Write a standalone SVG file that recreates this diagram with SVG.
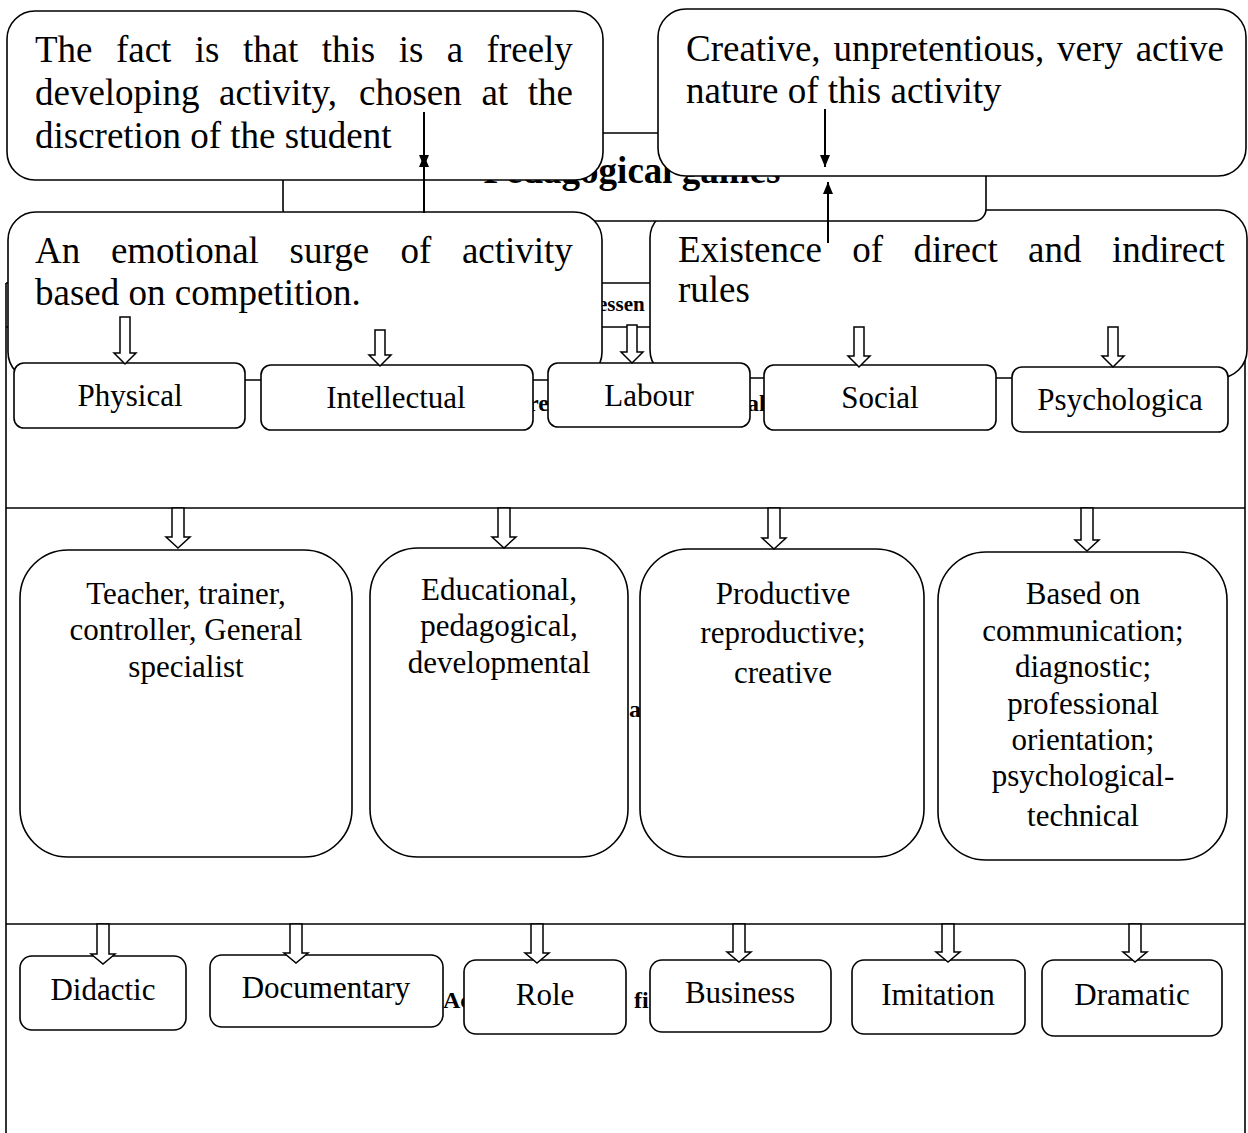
<svg xmlns="http://www.w3.org/2000/svg" width="1248" height="1133" viewBox="0 0 1248 1133">
<style>
.ln{stroke:#000;stroke-width:1.6;fill:none}
.bx{fill:#fff;stroke:#000;stroke-width:1.6}
.t{font-family:"Liberation Serif","Times New Roman",serif;fill:#000}
.big{font-size:37px}
.sm{font-size:31px}
.bd{font-weight:bold;font-size:24px}
.ha{fill:#fff;stroke:#000;stroke-width:1.5;stroke-linejoin:miter}
.ar{stroke:#000;stroke-width:2;fill:none}
</style>
<defs>
<marker id="ah" markerWidth="13" markerHeight="12" refX="12" refY="6" orient="auto" markerUnits="userSpaceOnUse"><path d="M0,1 L12,6 L0,11 Z" fill="#000"/></marker>
</defs>
<rect width="1248" height="1133" fill="#fff"/>
<g id="table">
<line class="ln" x1="6" y1="283" x2="1245" y2="283"/>
<line class="ln" x1="6" y1="327" x2="1245" y2="327"/>
<line class="ln" x1="6" y1="508" x2="1245" y2="508"/>
<line class="ln" x1="6" y1="924" x2="1245" y2="924"/>
<line class="ln" x1="6" y1="283" x2="6" y2="1133"/>
<line class="ln" x1="1245" y1="283" x2="1245" y2="1133"/>
<text class="t bd" x="598" y="311" style="font-size:21px">essen</text>
<text class="t bd" x="528" y="411">re</text>
<text class="t bd" x="747" y="411">al</text>
<text class="t bd" x="629" y="717">a</text>
<text class="t bd" x="443" y="1008">Ac</text>
<text class="t bd" x="634" y="1008">fi</text>
</g>
<g id="node-rules">
<rect class="bx" x="650" y="210" width="597" height="168" rx="28"/>
<text class="t big" y="262"><tspan x="678">Existence</tspan><tspan x="852.3">of</tspan><tspan x="913.5">direct</tspan><tspan x="1028.1">and</tspan><tspan x="1111.9">indirect</tspan></text>
<text class="t big" x="678" y="302">rules</text>
</g>
<g id="node-pedagogical-games">
<rect class="bx" x="283" y="133" width="703" height="88" rx="12"/>
<text class="t" x="632" y="183" text-anchor="middle" style="font-size:37px;font-weight:bold">Pedagogical games</text>
</g>
<g id="node-fact">
<rect class="bx" x="7" y="11" width="596" height="169" rx="28"/>
<text class="t big" y="62"><tspan x="35">The</tspan><tspan x="115.9">fact</tspan><tspan x="194.8">is</tspan><tspan x="242.9">that</tspan><tspan x="321.8">this</tspan><tspan x="398.7">is</tspan><tspan x="446.8">a</tspan><tspan x="486.6">freely</tspan></text>
<text class="t big" y="105"><tspan x="35">developing</tspan><tspan x="219.1">activity,</tspan><tspan x="359">chosen</tspan><tspan x="481.4">at</tspan><tspan x="527.8">the</tspan></text>
<text class="t big" x="35" y="148">discretion of the student</text>
</g>
<g id="node-creative">
<rect class="bx" x="658" y="9" width="588" height="167" rx="28"/>
<text class="t big" y="61"><tspan x="686">Creative,</tspan><tspan x="833.5">unpretentious,</tspan><tspan x="1057.1">very</tspan><tspan x="1135.7">active</tspan></text>
<text class="t big" x="686" y="103">nature of this activity</text>
</g>
<g id="node-emotional">
<rect class="bx" x="8" y="212" width="594" height="168" rx="28"/>
<text class="t big" y="263"><tspan x="35">An</tspan><tspan x="110.9">emotional</tspan><tspan x="289.6">surge</tspan><tspan x="400.4">of</tspan><tspan x="461.9">activity</tspan></text>
<text class="t big" x="35" y="305">based on competition.</text>
</g>
<g id="node-physical"><rect class="bx" x="14" y="363" width="231" height="65" rx="10"/><text class="t sm" x="130" y="406" text-anchor="middle">Physical</text></g>
<g id="node-intellectual"><rect class="bx" x="261" y="365" width="272" height="65" rx="10"/><text class="t sm" x="396" y="408" text-anchor="middle">Intellectual</text></g>
<g id="node-labour"><rect class="bx" x="548" y="363" width="202" height="64" rx="10"/><text class="t sm" x="649" y="406" text-anchor="middle">Labour</text></g>
<g id="node-social"><rect class="bx" x="764" y="365" width="232" height="65" rx="10"/><text class="t sm" x="880" y="408" text-anchor="middle">Social</text></g>
<g id="node-psychological"><rect class="bx" x="1012" y="367" width="216" height="65" rx="10"/><text class="t sm" x="1120" y="410" text-anchor="middle">Psychologica</text></g>
<g id="node-teacher"><rect class="bx" x="20" y="550" width="332" height="307" rx="48"/>
<text class="t sm" text-anchor="middle"><tspan x="186" y="604">Teacher, trainer,</tspan><tspan x="186" y="640">controller, General</tspan><tspan x="186" y="677">specialist</tspan></text></g>
<g id="node-educational"><rect class="bx" x="370" y="548" width="258" height="309" rx="48"/>
<text class="t sm" text-anchor="middle"><tspan x="499" y="600">Educational,</tspan><tspan x="499" y="636">pedagogical,</tspan><tspan x="499" y="673">developmental</tspan></text></g>
<g id="node-productive"><rect class="bx" x="640" y="549" width="284" height="308" rx="48"/>
<text class="t sm" text-anchor="middle"><tspan x="783" y="604">Productive</tspan><tspan x="783" y="643">reproductive;</tspan><tspan x="783" y="683">creative</tspan></text></g>
<g id="node-communication"><rect class="bx" x="938" y="552" width="289" height="308" rx="48"/>
<text class="t sm" text-anchor="middle"><tspan x="1083" y="604">Based on</tspan><tspan x="1083" y="641">communication;</tspan><tspan x="1083" y="677">diagnostic;</tspan><tspan x="1083" y="714">professional</tspan><tspan x="1083" y="750">orientation;</tspan><tspan x="1083" y="786">psychological-</tspan><tspan x="1083" y="826">technical</tspan></text></g>
<g id="node-didactic"><rect class="bx" x="20" y="956" width="166" height="74" rx="12"/><text class="t sm" x="103" y="1000" text-anchor="middle">Didactic</text></g>
<g id="node-documentary"><rect class="bx" x="210" y="955" width="233" height="72" rx="12"/><text class="t sm" x="326" y="998" text-anchor="middle">Documentary</text></g>
<g id="node-role"><rect class="bx" x="464" y="960" width="162" height="74" rx="12"/><text class="t sm" x="545" y="1005" text-anchor="middle">Role</text></g>
<g id="node-business"><rect class="bx" x="650" y="960" width="181" height="72" rx="12"/><text class="t sm" x="740" y="1003" text-anchor="middle">Business</text></g>
<g id="node-imitation"><rect class="bx" x="852" y="960" width="173" height="74" rx="12"/><text class="t sm" x="938" y="1005" text-anchor="middle">Imitation</text></g>
<g id="node-dramatic"><rect class="bx" x="1042" y="960" width="180" height="76" rx="12"/><text class="t sm" x="1132" y="1005" text-anchor="middle">Dramatic</text></g>
<g id="connectors">
<line class="ar" x1="424" y1="112" x2="424" y2="167" marker-end="url(#ah)"/>
<line class="ar" x1="424" y1="213" x2="424" y2="155" marker-end="url(#ah)"/>
<line class="ar" x1="825" y1="109" x2="825" y2="167" marker-end="url(#ah)"/>
<line class="ar" x1="828" y1="243" x2="828" y2="182" marker-end="url(#ah)"/>
<path class="ha" d="M120,317 H130 V353 H136 L125,364 L114,353 H120 Z"/>
<path class="ha" d="M375,330 H385 V355 H391 L380,366 L369,355 H375 Z"/>
<path class="ha" d="M627,325 H637 V352 H643 L632,363 L621,352 H627 Z"/>
<path class="ha" d="M854,327 H864 V356 H870 L859,367 L848,356 H854 Z"/>
<path class="ha" d="M1108,327 H1118 V356 H1124 L1113,367 L1102,356 H1108 Z"/>
<path class="ha" d="M172,508 H184 V537 H190 L178,548 L166,537 H172 Z"/>
<path class="ha" d="M498,508 H510 V537 H516 L504,548 L492,537 H498 Z"/>
<path class="ha" d="M768,508 H780 V538 H786 L774,549 L762,538 H768 Z"/>
<path class="ha" d="M1081,508 H1093 V540 H1099 L1087,551 L1075,540 H1081 Z"/>
<path class="ha" d="M97,924 H109 V954 H115 L103,964 L91,954 H97 Z"/>
<path class="ha" d="M290,924 H302 V953 H308 L296,963 L284,953 H290 Z"/>
<path class="ha" d="M531,924 H543 V953 H549 L537,963 L525,953 H531 Z"/>
<path class="ha" d="M733,924 H745 V952 H751 L739,962 L727,952 H733 Z"/>
<path class="ha" d="M942,924 H954 V952 H960 L948,962 L936,952 H942 Z"/>
<path class="ha" d="M1129,924 H1141 V952 H1147 L1135,962 L1123,952 H1129 Z"/>
</g>
</svg>
